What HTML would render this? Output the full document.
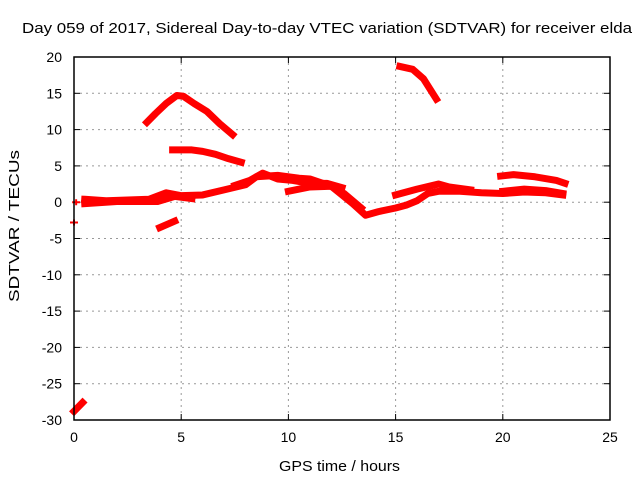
<!DOCTYPE html>
<html><head><meta charset="utf-8"><style>body{margin:0;background:#fff}svg{display:block;font-family:"Liberation Sans",sans-serif}</style></head>
<body>
<svg id="chart" width="640" height="480" xmlns="http://www.w3.org/2000/svg">
<rect width="640" height="480" fill="#fff"/>
<text x="22" y="33" font-size="15" textLength="610" lengthAdjust="spacingAndGlyphs">Day 059 of 2017, Sidereal Day-to-day VTEC variation (SDTVAR) for receiver elda</text>
<g id="grid"></g><g id="ticks"></g><g id="series"></g>
<rect x="74" y="57" width="536" height="363" fill="none" stroke="#000" stroke-width="1.5"/>
<text x="279" y="471" font-size="15" textLength="121" lengthAdjust="spacingAndGlyphs">GPS time / hours</text>
<text x="19" y="302" font-size="15" textLength="152" lengthAdjust="spacingAndGlyphs" transform="rotate(-90 19 302)">SDTVAR / TECUs</text>
</svg>
<script>
const xTicks=[0,5,10,15,20,25];
const yTicks=[20,15,10,5,0,-5,-10,-15,-20,-25,-30];
const segPeak=[[3.4,11],[3.8,12.2],[4.3,13.6],[4.8,14.7],[5.1,14.6],[5.6,13.6],[6.2,12.5],[6.8,10.8],[7.4,9.3]];
const segMid=[[4.6,7.2],[5.5,7.2],[6,7],[6.6,6.6],[7.2,6],[7.8,5.5]];
const segTopRight=[[15.2,18.7],[15.8,18.3],[16.3,17],[16.9,14.2]];
const segMain=[[0.5,0.4],[1.5,0.2],[2.5,0.3],[3.5,0.4],[4.3,1.3],[5,0.9],[6,1],[7,1.7],[8,2.4],[8.5,3.5],[9.5,3.7],[10.5,3.3],[11,3.2],[12,2.2],[12.5,1],[13,-0.2],[13.6,-1.8],[14.2,-1.3],[15,-0.8],[15.5,-0.4],[16,0.2],[16.5,1.2],[17,1.5],[18,1.5],[19,1.3],[20,1.2],[21,1.4],[22,1.3],[22.8,1.0]];
const segThick=[[7.5,2.3],[8.2,3.0],[8.8,4.0],[9.5,3.2],[10.2,3.0],[11,2.6],[11.8,2.6],[12.5,2.0]];
const segLow=[[0.5,-0.2],[2,0.1],[3.9,0.1],[4.7,0.8],[5.5,0.5]];
const segBranch=[[10,1.5],[11,2.1],[12,2.2],[12.6,1.2],[13.4,-0.8]];
const segUpper=[[15,1],[16,1.8],[17,2.5],[17.5,2.1],[18.5,1.7]];
const segRight=[[19.9,3.6],[20.5,3.8],[21.5,3.5],[22.5,3],[22.9,2.6]];
const segRightLow=[[20,1.5],[21,1.8],[22,1.6],[22.8,1.2]];
const segSmall=[[4,-3.5],[4.7,-2.6]];
const segBottom=[[0,-28.8],[0.4,-27.6]];
const segDots=[[0,-2.8],[0.1,0]];
const X=t=>74+t*536/25, Y=v=>57+(20-v)*363/50;
const NS="http://www.w3.org/2000/svg";
const g=document.getElementById('grid'),tk=document.getElementById('ticks'),s=document.getElementById('series');
function mk(tag,at,p){const e=document.createElementNS(NS,tag);for(const k in at)e.setAttribute(k,at[k]);p.appendChild(e);return e;}
xTicks.forEach(t=>{
  if(t>0&&t<25){const l=mk('line',{x1:X(t),x2:X(t),y1:57,y2:420,stroke:'#999','stroke-dasharray':'2,4'},g);
  
  }
  const tx=mk('text',{x:X(t),y:442,'font-size':14,'text-anchor':'middle'},tk);tx.textContent=t;
  
  
  mk('line',{x1:X(t),x2:X(t),y1:420,y2:414,stroke:'#000'},tk);
  mk('line',{x1:X(t),x2:X(t),y1:57,y2:63,stroke:'#000'},tk);
});
yTicks.forEach(v=>{
  if(v<20&&v>-30){const l=mk('line',{x1:74,x2:610,y1:Y(v),y2:Y(v),stroke:'#999','stroke-dasharray':'2,4'},g);
  
  }
  const tx=mk('text',{x:62,y:Y(v)+5,'font-size':14,'text-anchor':'end'},tk);tx.textContent=v;
  
  
  mk('line',{x1:74,x2:80,y1:Y(v),y2:Y(v),stroke:'#000'},tk);
  mk('line',{x1:604,x2:610,y1:Y(v),y2:Y(v),stroke:'#000'},tk);
});
const segs=[segPeak,segMid,segTopRight,segMain,segThick,segLow,segBranch,segUpper,segRight,segRightLow,segSmall,segBottom];
segs.forEach(sg=>{
  const p=mk('polyline',{points:sg.map(d=>X(d[0])+','+Y(d[1])).join(' '),fill:'none',stroke:'#f00','stroke-width':7,'stroke-linejoin':'round','stroke-linecap':'square'},s);
  
  
});
segDots.forEach(d=>{
  const p=mk('path',{d:`M${X(d[0])-4},${Y(d[1])}h8M${X(d[0])},${Y(d[1])-3}v6`,stroke:'#f00','stroke-width':2},s);
  
  
});
</script>
</body></html>
